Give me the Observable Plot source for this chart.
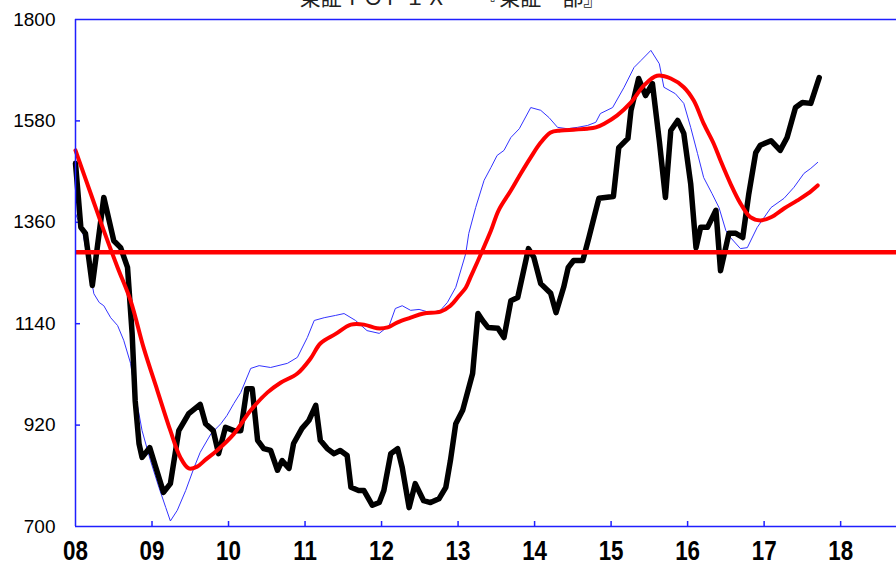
<!DOCTYPE html>
<html><head><meta charset="utf-8">
<script src="https://cdn.jsdelivr.net/npm/d3@7"></script>
<script src="https://cdn.jsdelivr.net/npm/@observablehq/plot@0.6"></script>
<style>body{margin:0;background:#fff;}</style>
</head><body><div id="chart"></div>
<script>
const title = "東証ＴＯＰＩＸ　　『東証一部』";
const yTicks = [700, 920, 1140, 1360, 1580, 1800];
const xTicks = [2008, 2009, 2010, 2011, 2012, 2013, 2014, 2015, 2016, 2017, 2018];
const xTickLabels = ["08", "09", "10", "11", "12", "13", "14", "15", "16", "17", "18"];
const xDomain = [2008, 2018.73];
const refLevel = 1295;

// TOPIX (thick black)
const topixYears = [2008.00,2008.07,2008.13,2008.22,2008.37,2008.50,2008.59,2008.68,2008.74,2008.78,2008.83,2008.87,2008.97,2009.05,2009.15,2009.24,2009.35,2009.48,2009.63,2009.70,2009.80,2009.87,2009.96,2010.07,2010.16,2010.24,2010.31,2010.38,2010.46,2010.55,2010.64,2010.70,2010.79,2010.85,2010.96,2011.05,2011.14,2011.20,2011.29,2011.38,2011.46,2011.55,2011.60,2011.70,2011.77,2011.88,2011.97,2012.03,2012.12,2012.21,2012.27,2012.36,2012.44,2012.55,2012.64,2012.75,2012.84,2012.90,2012.97,2013.06,2013.19,2013.26,2013.32,2013.39,2013.52,2013.60,2013.69,2013.78,2013.92,2013.99,2014.08,2014.21,2014.28,2014.38,2014.44,2014.51,2014.63,2014.71,2014.84,2015.03,2015.10,2015.22,2015.26,2015.36,2015.45,2015.54,2015.63,2015.71,2015.78,2015.87,2015.95,2016.04,2016.11,2016.17,2016.26,2016.37,2016.43,2016.54,2016.63,2016.72,2016.80,2016.89,2016.95,2017.09,2017.21,2017.30,2017.41,2017.50,2017.61,2017.72];
const topixValues = [1488,1349,1336,1223,1414,1320,1305,1262,1119,973,880,850,871,828,774,793,908,945,965,923,908,858,915,908,908,999,999,887,869,865,822,843,826,880,913,930,963,887,869,858,865,854,785,778,778,746,752,778,858,869,828,741,793,756,752,760,785,843,923,952,1032,1162,1147,1132,1130,1110,1190,1197,1303,1284,1227,1206,1164,1219,1262,1277,1277,1327,1412,1416,1522,1542,1603,1672,1635,1661,1537,1414,1559,1581,1553,1444,1305,1349,1349,1386,1255,1336,1336,1327,1422,1511,1527,1537,1516,1544,1609,1620,1618,1674];

// shorter moving average (thin blue)
const maShortYears = [2008.00,2008.09,2008.17,2008.24,2008.31,2008.37,2008.46,2008.55,2008.63,2008.72,2008.78,2008.87,2008.98,2009.09,2009.18,2009.24,2009.33,2009.44,2009.55,2009.63,2009.77,2009.90,2009.98,2010.07,2010.16,2010.29,2010.40,2010.55,2010.77,2010.90,2011.03,2011.12,2011.25,2011.40,2011.51,2011.66,2011.81,2011.97,2012.10,2012.18,2012.27,2012.38,2012.49,2012.64,2012.77,2012.86,2012.97,2013.10,2013.14,2013.23,2013.34,2013.43,2013.51,2013.60,2013.69,2013.80,2013.95,2014.08,2014.19,2014.30,2014.43,2014.56,2014.69,2014.80,2014.86,2015.02,2015.17,2015.30,2015.39,2015.52,2015.63,2015.69,2015.84,2015.95,2016.04,2016.13,2016.21,2016.32,2016.41,2016.50,2016.56,2016.69,2016.78,2016.91,2017.09,2017.26,2017.39,2017.52,2017.61,2017.70];
const maShortValues = [1379,1342,1271,1205,1186,1179,1153,1136,1104,1054,989,908,843,785,741,712,735,778,828,861,901,923,941,967,991,1043,1049,1045,1054,1067,1110,1147,1153,1158,1162,1147,1125,1119,1136,1173,1179,1169,1171,1164,1169,1186,1219,1292,1336,1392,1451,1479,1505,1516,1544,1563,1609,1603,1587,1566,1563,1566,1570,1577,1596,1609,1653,1696,1711,1733,1704,1653,1639,1618,1566,1509,1457,1422,1392,1342,1327,1303,1305,1349,1392,1412,1436,1466,1477,1490];

// longer moving average (thick red)
const maLongYears = [2008.00,2008.20,2008.37,2008.55,2008.72,2008.89,2009.07,2009.24,2009.37,2009.48,2009.59,2009.70,2009.85,2010.07,2010.29,2010.51,2010.68,2010.90,2011.07,2011.20,2011.40,2011.60,2011.77,2011.94,2012.08,2012.21,2012.38,2012.55,2012.77,2012.90,2013.01,2013.10,2013.16,2013.29,2013.43,2013.53,2013.69,2013.82,2013.95,2014.08,2014.21,2014.34,2014.51,2014.69,2014.80,2014.91,2015.08,2015.26,2015.43,2015.60,2015.78,2015.95,2016.08,2016.21,2016.34,2016.43,2016.56,2016.69,2016.82,2016.95,2017.09,2017.26,2017.43,2017.57,2017.70];
const maLongValues = [1516,1422,1342,1262,1190,1088,995,908,850,826,830,845,865,901,952,991,1012,1032,1064,1097,1118,1138,1138,1130,1132,1143,1153,1162,1166,1179,1200,1218,1240,1288,1342,1386,1429,1466,1501,1533,1555,1559,1561,1563,1566,1574,1592,1620,1657,1678,1672,1653,1624,1574,1531,1494,1444,1401,1371,1364,1371,1390,1407,1422,1440];

const toRows = (ts, vs) => ts.map((t, i) => ({t, v: vs[i]}));
const topix = toRows(topixYears, topixValues);
const maShort = toRows(maShortYears, maShortValues);
const maLong = toRows(maLongYears, maLongValues);

const W = 896, H = 566, mL = 75, mR = 0, mT = 19, mB = 40;
const axisBlue = "#1f1fff";

const chart = Plot.plot({
  width: W, height: H,
  marginLeft: mL, marginRight: mR, marginTop: mT, marginBottom: mB,
  x: {type: "linear", domain: xDomain},
  y: {domain: [700, 1800]},
  style: {background: "white", fontFamily: "Liberation Sans, Arial, sans-serif", color: "black"},
  marks: [
    Plot.ruleY(yTicks.slice(1, -1), {stroke: axisBlue, strokeWidth: 1.5, insetRight: (W - mL - mR) - 5}),
    Plot.ruleX(xTicks.slice(1), {stroke: axisBlue, strokeWidth: 1.5, insetTop: (H - mT - mB) - 5}),
    Plot.axisY(yTicks, {tickSize: 0, tickPadding: 20, label: null, fontSize: 19,
      tickFormat: d => String(d)}),
    Plot.axisX(xTicks, {tickSize: 0, tickPadding: 14, label: null,
      tickFormat: d => xTickLabels[xTicks.indexOf(d)],
      fontSize: 28, fontWeight: "bold",
      fontFamily: "Liberation Sans, Arial, sans-serif"}),
    Plot.line(maShort, {x: "t", y: "v", stroke: "#3333ff", strokeWidth: 1}),
    Plot.line(topix, {x: "t", y: "v", stroke: "black", strokeWidth: 5.5, strokeLinejoin: "round"}),
    Plot.ruleY([refLevel], {stroke: "#ff0000", strokeWidth: 4.5}),
    Plot.line(maLong, {x: "t", y: "v", stroke: "#ff0000", strokeWidth: 4, curve: "catmull-rom"}),
    Plot.ruleX([xDomain[0]], {stroke: axisBlue, strokeWidth: 1.5}),
    Plot.ruleY([700, 1800], {stroke: axisBlue, strokeWidth: 1.5}),
    Plot.text([title], {text: d => d, frameAnchor: "top", dx: -34, dy: -21, lineAnchor: "middle",
      fontSize: 21, fontFamily: "Noto Sans CJK JP", fill: "#222"})
  ]
});
// narrow the bold x-axis labels horizontally, as in the reference
d3.select(chart).selectAll("g[aria-label='x-axis tick label'] text")
  .attr("transform", function () { return (this.getAttribute("transform") || "") + " scale(0.8,1)"; });
document.getElementById("chart").appendChild(chart);
</script>
</body></html>
